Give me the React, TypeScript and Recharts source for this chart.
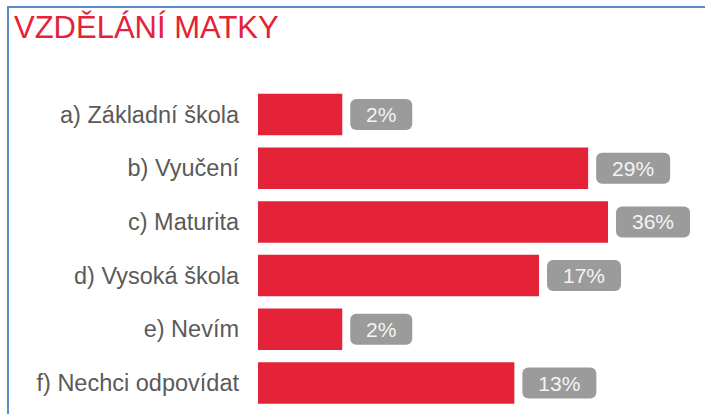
import React from 'react';
import { BarChart, Bar, XAxis, YAxis, LabelList } from 'recharts';

const categories = [
  'a) Základní škola',
  'b) Vyučení',
  'c) Maturita',
  'd) Vysoká škola',
  'e) Nevím',
  'f) Nechci odpovídat',
];
const shares = [2, 29, 36, 17, 2, 13];

const data = categories.map((name, i) => ({ name, value: shares[i] }));

const RED = '#e42238';
const FONT = '"Liberation Sans", Arial, sans-serif';

const CategoryTick = (props: any) => {
  const { x, y, payload } = props;
  return (
    <text x={x} y={y} dy={8} textAnchor="end" fill="#5a5a5a" fontSize={23.5} fontFamily={FONT}>
      {payload.value}
    </text>
  );
};

const PillLabel = (props: any) => {
  const { x, y, width, height, value } = props;
  const text = `${value}%`;
  const w = 38 + 12 * text.length;
  const h = 31;
  const left = x + width + 8;
  const cy = y + height / 2;
  return (
    <g>
      <rect x={left} y={cy - h / 2} width={w} height={h} rx={6} ry={6} fill="#9b9b9b" />
      <text
        x={left + w / 2}
        y={cy + 7.5}
        textAnchor="middle"
        fill="#f4f4f4"
        fontSize={21}
        fontFamily={FONT}
      >
        {text}
      </text>
    </g>
  );
};

export default function App() {
  return (
    <div style={{ position: 'absolute', left: 0, top: 0, width: 705, height: 414, background: '#fff' }}>
      <BarChart
        width={705}
        height={414}
        data={data}
        layout="vertical"
        margin={{ top: 87.7, right: 47, bottom: 4, left: 0 }}
      >
        <XAxis type="number" scale="log" domain={[0.8, 62]} allowDataOverflow hide />
        <YAxis
          type="category"
          dataKey="name"
          width={258}
          axisLine={false}
          tickLine={false}
          tickSize={0}
          tickMargin={19}
          tick={<CategoryTick />}
          interval={0}
        />
        <Bar dataKey="value" fill={RED} barSize={41.5} isAnimationActive={false}>
          <LabelList dataKey="value" content={<PillLabel />} />
        </Bar>
      </BarChart>
      <svg
        width={705}
        height={414}
        style={{ position: 'absolute', left: 0, top: 0, pointerEvents: 'none' }}
      >
        <line x1={7} y1={7} x2={705} y2={7} stroke="#5b8bc9" strokeWidth={2} />
        <line x1={8} y1={6} x2={8} y2={414} stroke="#5b8bc9" strokeWidth={2} />
        <text x={14} y={38} fill={RED} fontSize={31} fontFamily={FONT}>
          VZDĚLÁNÍ MATKY
        </text>
      </svg>
    </div>
  );
}
